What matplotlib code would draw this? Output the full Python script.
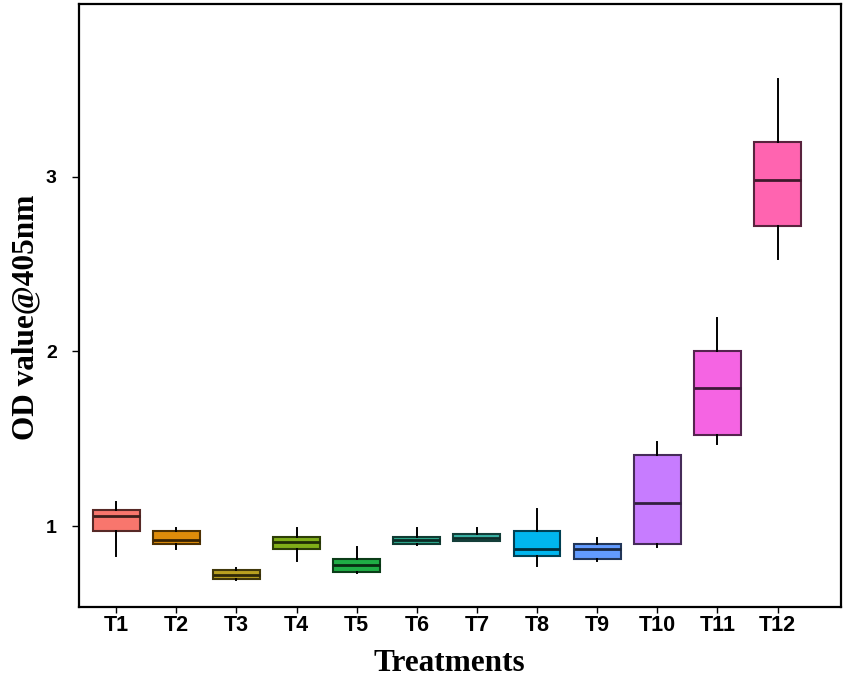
#!/usr/bin/env python3
"""Box plot of OD value at 405nm across 12 treatments."""
import matplotlib

matplotlib.use("Agg")
import matplotlib.pyplot as plt
from matplotlib.colors import to_rgb

treatments = [f"T{i}" for i in range(1, 13)]
whislo = [0.83, 0.87, 0.69, 0.80, 0.73, 0.89, 0.915, 0.77, 0.80, 0.88, 1.47, 2.53]
q1 = [0.97, 0.90, 0.70, 0.87, 0.74, 0.90, 0.915, 0.83, 0.81, 0.90, 1.52, 2.72]
med = [1.06, 0.92, 0.72, 0.91, 0.78, 0.92, 0.935, 0.87, 0.87, 1.13, 1.79, 2.98]
q3 = [1.09, 0.97, 0.75, 0.94, 0.81, 0.94, 0.955, 0.97, 0.90, 1.41, 2.00, 3.20]
whishi = [1.14, 0.99, 0.76, 0.99, 0.88, 0.99, 0.99, 1.10, 0.93, 1.48, 2.19, 3.56]
fills = ["#F8766D", "#DE8C0A", "#B9A020", "#80AE18", "#1FAD45", "#2DA98E",
         "#38B0A3", "#00B6EE", "#629BFF", "#C77CFF", "#F564E3", "#FF64B0"]


def darker(c, f=0.35):
    r, g, b = to_rgb(c)
    return (r * f, g * f, b * f)


fig = plt.figure(figsize=(8.5, 6.76), dpi=100)
ax = fig.add_axes([0.093, 0.102, 0.896, 0.892])

stats = []
for i, name in enumerate(treatments):
    stats.append(dict(label=name, whislo=whislo[i], q1=q1[i], med=med[i],
                      q3=q3[i], whishi=whishi[i], fliers=[]))

pos = list(range(1, len(treatments) + 1))
bp = ax.bxp(stats, positions=pos, widths=0.78, patch_artist=True,
            showcaps=False, showfliers=False,
            whiskerprops=dict(color="black", linewidth=1.4))
for i, box in enumerate(bp["boxes"]):
    box.set_facecolor(fills[i])
    box.set_edgecolor(darker(fills[i]))
    box.set_linewidth(1.5)
    bp["medians"][i].set_color(darker(fills[i], 0.25))
    bp["medians"][i].set_linewidth(2.0)

ax.set_xlim(0.383, 13.05)
ax.set_ylim(0.537, 3.989)
ax.set_yticks([1, 2, 3])
ax.set_yticklabels(["1", "2", "3"])
ax.set_xticks(pos)
ax.set_xticklabels(treatments)

for lab in ax.get_yticklabels():
    lab.set_fontfamily("Liberation Sans")
    lab.set_fontweight("bold")
    lab.set_fontsize(14)
for lab in ax.get_xticklabels():
    lab.set_fontfamily("Liberation Sans")
    lab.set_fontweight("bold")
    lab.set_fontsize(15.5)

ax.tick_params(axis="y", length=5, width=1.0, pad=11)
ax.tick_params(axis="x", length=4, width=1.0, pad=2)
for sp in ax.spines.values():
    sp.set_linewidth(1.6)
    sp.set_color("black")

ax.set_xlabel("Treatments", fontfamily="Liberation Serif", fontweight="bold",
              fontsize=22.5)
ax.set_ylabel("OD value@405nm", fontfamily="Liberation Serif", fontweight="bold",
              fontsize=22.5)
ax.xaxis.set_label_coords(0.486, -0.069)
ax.yaxis.set_label_coords(-0.051, 0.481)

fig.savefig("out.png", dpi=100)
plt.close(fig)
